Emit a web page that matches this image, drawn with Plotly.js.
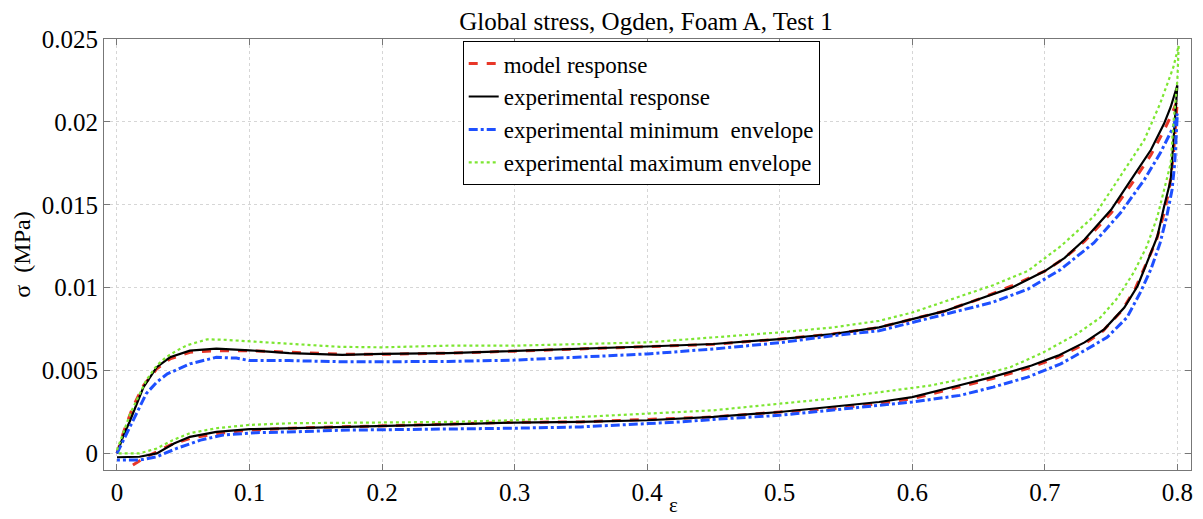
<!DOCTYPE html>
<html>
<head>
<meta charset="utf-8">
<script src="https://cdn.plot.ly/plotly-3.0.1.min.js"></script>
<style>html,body{margin:0;padding:0;background:#fff;}#chart{width:1203px;height:519px;}</style>
</head>
<body>
<div id="chart"></div>
<script>
// ---- Data ----
var seriesNames = ["model response", "experimental response", "experimental minimum\u00a0 envelope", "experimental maximum envelope"];

// Model response (red dashed): loading branch then unloading branch
var modelLoadX = [0, 0.005, 0.012, 0.020, 0.030, 0.040, 0.055, 0.075, 0.100, 0.130, 0.170, 0.200, 0.250, 0.300, 0.350, 0.400, 0.450, 0.500, 0.540, 0.575, 0.600, 0.625, 0.650, 0.675, 0.700, 0.715, 0.730, 0.750, 0.765, 0.780, 0.790, 0.796, 0.800];
var modelLoadY = [0, 0.0013, 0.0028, 0.0041, 0.0051, 0.0057, 0.0061, 0.0062, 0.0062, 0.0061, 0.00598, 0.00598, 0.00605, 0.00617, 0.0063, 0.00643, 0.00658, 0.0069, 0.0072, 0.0076, 0.0081, 0.0086, 0.0093, 0.0101, 0.0110, 0.0118, 0.0128, 0.0145, 0.0162, 0.0180, 0.0195, 0.0205, 0.0213];
var modelUnloadX = [0.800, 0.799, 0.797, 0.794, 0.790, 0.784, 0.776, 0.768, 0.758, 0.744, 0.730, 0.710, 0.690, 0.660, 0.635, 0.600, 0.575, 0.540, 0.500, 0.450, 0.400, 0.350, 0.300, 0.250, 0.200, 0.168, 0.131, 0.100, 0.075, 0.055, 0.040, 0.030, 0.022, 0.016, 0.012];
var modelUnloadY = [0.0213, 0.0200, 0.0180, 0.0160, 0.0145, 0.0128, 0.0113, 0.0099, 0.0086, 0.0074, 0.0066, 0.0058, 0.0052, 0.0045, 0.0040, 0.0033, 0.0030, 0.0027, 0.0025, 0.0022, 0.00205, 0.0019, 0.00188, 0.00178, 0.00168, 0.00162, 0.00152, 0.0014, 0.0012, 0.0009, 0.0005, 0.0001, -0.0002, -0.0005, -0.0007];

// Experimental response (black solid)
var expLoadX = [0, 0.005, 0.010, 0.020, 0.030, 0.040, 0.055, 0.075, 0.100, 0.130, 0.170, 0.200, 0.250, 0.300, 0.350, 0.400, 0.450, 0.500, 0.540, 0.575, 0.600, 0.625, 0.650, 0.675, 0.700, 0.715, 0.730, 0.750, 0.765, 0.780, 0.790, 0.795, 0.800];
var expLoadY = [0, 0.0011, 0.0020, 0.0040, 0.0052, 0.0058, 0.0062, 0.00632, 0.00622, 0.00605, 0.00594, 0.0060, 0.00605, 0.00617, 0.0063, 0.00645, 0.0066, 0.0069, 0.0072, 0.0076, 0.0081, 0.0086, 0.0093, 0.0100, 0.0110, 0.0118, 0.0129, 0.0147, 0.0165, 0.0183, 0.0199, 0.0209, 0.0222];
var expUnloadX = [0.800, 0.799, 0.798, 0.795, 0.790, 0.785, 0.777, 0.770, 0.760, 0.745, 0.730, 0.710, 0.690, 0.660, 0.635, 0.600, 0.575, 0.540, 0.500, 0.450, 0.425, 0.400, 0.350, 0.300, 0.250, 0.200, 0.168, 0.131, 0.100, 0.075, 0.055, 0.043, 0.030, 0.017, 0.005, 0];
var expUnloadY = [0.0222, 0.0210, 0.0195, 0.0165, 0.0149, 0.0131, 0.0115, 0.0101, 0.0088, 0.0075, 0.0067, 0.0059, 0.0053, 0.0046, 0.0041, 0.0034, 0.0031, 0.0028, 0.0025, 0.0022, 0.0021, 0.0020, 0.0019, 0.00186, 0.00175, 0.00165, 0.0016, 0.00154, 0.00146, 0.0013, 0.0010, 0.0006, 0.0, -0.0002, -0.00023, -0.00023];

// Experimental minimum envelope (blue dash-dot)
var minLoadX = [0, 0.008, 0.015, 0.022, 0.030, 0.038, 0.055, 0.075, 0.090, 0.100, 0.130, 0.170, 0.200, 0.250, 0.300, 0.350, 0.400, 0.450, 0.500, 0.540, 0.575, 0.600, 0.636, 0.660, 0.687, 0.712, 0.737, 0.757, 0.775, 0.787, 0.797, 0.800];
var minLoadY = [0, 0.0013, 0.0025, 0.0036, 0.0043, 0.0048, 0.0054, 0.0058, 0.00575, 0.0056, 0.0056, 0.00553, 0.00553, 0.00555, 0.00563, 0.0058, 0.0060, 0.0063, 0.00668, 0.0071, 0.0074, 0.0079, 0.0086, 0.0091, 0.0099, 0.0111, 0.0127, 0.0145, 0.0165, 0.0181, 0.0197, 0.0205];
var minUnloadX = [0.800, 0.798, 0.796, 0.792, 0.787, 0.780, 0.772, 0.762, 0.747, 0.732, 0.712, 0.687, 0.661, 0.636, 0.600, 0.575, 0.540, 0.500, 0.450, 0.425, 0.400, 0.350, 0.300, 0.250, 0.200, 0.168, 0.136, 0.105, 0.080, 0.063, 0.045, 0.030, 0.017, 0];
var minUnloadY = [0.0205, 0.0175, 0.0159, 0.0143, 0.0127, 0.0111, 0.0097, 0.0082, 0.0070, 0.0063, 0.0054, 0.0046, 0.0040, 0.0035, 0.0031, 0.0029, 0.0026, 0.0023, 0.00205, 0.0019, 0.0018, 0.0016, 0.00152, 0.00148, 0.00142, 0.0014, 0.00131, 0.00125, 0.00111, 0.0008, 0.0003, -0.0002, -0.0004, -0.0004];

// Experimental maximum envelope (green dotted)
var maxLoadX = [0, 0.005, 0.010, 0.022, 0.030, 0.037, 0.045, 0.053, 0.068, 0.080, 0.093, 0.131, 0.168, 0.200, 0.250, 0.300, 0.350, 0.400, 0.450, 0.500, 0.540, 0.575, 0.600, 0.636, 0.661, 0.687, 0.712, 0.737, 0.757, 0.775, 0.787, 0.797, 0.801];
var maxLoadY = [0.0002, 0.0013, 0.0024, 0.0044, 0.0053, 0.0058, 0.0062, 0.00653, 0.00688, 0.00686, 0.0068, 0.00664, 0.00643, 0.0064, 0.0065, 0.0065, 0.0066, 0.0067, 0.0070, 0.0073, 0.0076, 0.0080, 0.0085, 0.00945, 0.01015, 0.0110, 0.0125, 0.0143, 0.0167, 0.0189, 0.0211, 0.0233, 0.0246];
var maxUnloadX = [0.801, 0.800, 0.797, 0.795, 0.790, 0.785, 0.777, 0.767, 0.754, 0.742, 0.724, 0.699, 0.674, 0.650, 0.614, 0.576, 0.538, 0.500, 0.450, 0.425, 0.400, 0.350, 0.300, 0.250, 0.200, 0.168, 0.131, 0.100, 0.075, 0.055, 0.042, 0.030, 0.017, 0];
var maxUnloadY = [0.0246, 0.0225, 0.0199, 0.0175, 0.0159, 0.0143, 0.0125, 0.0109, 0.0093, 0.0082, 0.0072, 0.0061, 0.0052, 0.0047, 0.0041, 0.0037, 0.0033, 0.0030, 0.0026, 0.0025, 0.0024, 0.0022, 0.0020, 0.0019, 0.00186, 0.00186, 0.00182, 0.00172, 0.00152, 0.00122, 0.0008, 0.0003, 0, 0];

var xTickVals = [0, 0.1, 0.2, 0.3, 0.4, 0.5, 0.6, 0.7, 0.8];
var xTickText = ["0", "0.1", "0.2", "0.3", "0.4", "0.5", "0.6", "0.7", "0.8"];
var yTickVals = [0, 0.005, 0.01, 0.015, 0.02, 0.025];
var yTickText = ["0", "0.005", "0.01", "0.015", "0.02", "0.025"];
var xAxisLabel = "ε";
var yAxisLabel = "σ\u00a0 (MPa)";
var chartTitle = "Global stress, Ogden, Foam A, Test 1";

// ---- Traces ----
var serif = "Liberation Serif, Times New Roman, serif";
var traces = [
  {x: modelLoadX.concat(modelUnloadX), y: modelLoadY.concat(modelUnloadY), name: seriesNames[0],
   mode: "lines", line: {color: "rgb(232,55,40)", width: 3, dash: "dash"}},
  {x: expLoadX.concat(expUnloadX), y: expLoadY.concat(expUnloadY), name: seriesNames[1],
   mode: "lines", line: {color: "#000000", width: 2.2}},
  {x: minLoadX.concat(minUnloadX), y: minLoadY.concat(minUnloadY), name: seriesNames[2],
   mode: "lines", line: {color: "rgb(30,80,255)", width: 3, dash: "dashdot"}},
  {x: maxLoadX.concat(maxUnloadX), y: maxLoadY.concat(maxUnloadY), name: seriesNames[3],
   mode: "lines", line: {color: "rgb(125,230,50)", width: 2.2, dash: "dot"}}
];

var axisCommon = {
  showline: true, linecolor: "#777", linewidth: 1, mirror: "ticks",
  ticks: "inside", ticklen: 6, tickcolor: "#777", tickwidth: 1,
  showgrid: true, gridcolor: "#d6d6d6", griddash: "dot", gridwidth: 1,
  zeroline: false, tickfont: {family: serif, size: 25, color: "#000"}
};

var layout = {
  width: 1203, height: 519,
  margin: {l: 104, r: 12, t: 38.5, b: 49},
  paper_bgcolor: "#fff", plot_bgcolor: "#fff",
  font: {family: serif, color: "#000"},
  title: {text: chartTitle, font: {family: serif, size: 25, color: "#000"},
          x: 0.537, xanchor: "center", yref: "paper", y: 1, yanchor: "bottom", pad: {b: 9}},
  xaxis: Object.assign({}, axisCommon, {
    range: [-0.0098, 0.8103], tickmode: "array", tickvals: xTickVals, ticktext: xTickText
  }),
  yaxis: Object.assign({}, axisCommon, {
    range: [-0.001, 0.025], tickmode: "array", tickvals: yTickVals, ticktext: yTickText,
    title: {text: yAxisLabel, font: {family: serif, size: 24, color: "#000"}, standoff: 4}
  }),
  annotations: [
    {text: xAxisLabel, xref: "x", yref: "paper", x: 0.42, y: -0.1135, xanchor: "center", yanchor: "bottom",
     showarrow: false, font: {family: serif, size: 21, color: "#000"}}
  ],
  showlegend: true,
  legend: {x: 0.330, y: 0.995, xanchor: "left", yanchor: "top",
           bgcolor: "#fff", bordercolor: "#000", borderwidth: 1,
           font: {family: serif, size: 23, color: "#000"},
           itemwidth: 30, tracegroupgap: 0}
};

Plotly.newPlot("chart", traces, layout, {staticPlot: true, displayModeBar: false});
</script>
</body>
</html>
